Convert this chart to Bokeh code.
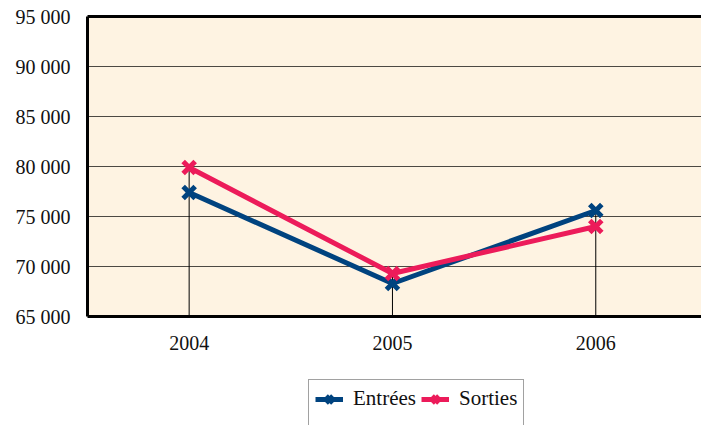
from bokeh.plotting import figure
from bokeh.layouts import column
from bokeh.models import Range1d, FixedTicker, LinearAxis, Legend, LegendItem, ColumnDataSource
from bokeh.embed import file_html
from bokeh.resources import INLINE

# ---- data ----
years = [2004, 2005, 2006]
entrees = [77400, 68300, 75600]
sorties = [79900, 69300, 74000]
y_ticks = [65000, 70000, 75000, 80000, 85000, 90000, 95000]
y_tick_labels = ["65 000", "70 000", "75 000", "80 000", "85 000", "90 000", "95 000"]
series_names = ["Entrées", "Sorties"]
Y_MIN, Y_MAX = 65000, 95000

BLUE = "#00437F"
RED = "#EC1B5A"
BG = "#FEF3E2"
FONT = "'Liberation Serif', 'Times New Roman', serif"

p = figure(width=701, height=378, output_backend="svg", toolbar_location=None,
           x_range=Range1d(2003.5, 2006.52), y_range=Range1d(Y_MIN, Y_MAX),
           min_border_left=87, min_border_right=0, min_border_top=16, min_border_bottom=62)
p.background_fill_color = BG
p.border_fill_color = "white"
p.outline_line_color = None

# grid
p.xgrid.grid_line_color = None
p.ygrid.ticker = FixedTicker(ticks=y_ticks)
p.ygrid.grid_line_color = "#000000"
p.ygrid.grid_line_alpha = 0.7
p.ygrid.grid_line_width = 1

# axes
p.yaxis.ticker = FixedTicker(ticks=y_ticks)
p.yaxis.major_label_overrides = {t: l for t, l in zip(y_ticks, y_tick_labels)}
p.xaxis.ticker = FixedTicker(ticks=years)
for ax in (p.xaxis, p.yaxis):
    ax.major_tick_line_color = None
    ax.minor_tick_line_color = None
    ax.axis_line_color = "black"
    ax.major_label_text_font = FONT
    ax.major_label_text_font_size = "20px"
    ax.major_label_text_color = "#111111"
p.yaxis.axis_line_width = 3
p.xaxis.axis_line_width = 3
p.yaxis.major_label_standoff = 11
p.xaxis.major_label_standoff = 13

top = LinearAxis(ticker=FixedTicker(ticks=[]), major_label_text_font_size="0px",
                 major_tick_line_color=None, minor_tick_line_color=None,
                 axis_line_color="black", axis_line_width=3)
p.add_layout(top, "above")

# drop lines
drop_top = [max(a, b) for a, b in zip(entrees, sorties)]
p.segment(x0=years, y0=drop_top, x1=years, y1=[Y_MIN] * len(years),
          line_color="black", line_width=1)

src = ColumnDataSource(dict(x=years, e=entrees, s=sorties))
p.line("x", "e", source=src, line_color=BLUE, line_width=5)
p.scatter("x", "e", source=src, marker="x", size=17, line_color=BLUE, line_width=5)
p.line("x", "s", source=src, line_color=RED, line_width=5)
p.scatter("x", "s", source=src, marker="x", size=17, line_color=RED, line_width=5)

# legend strip below the chart
q = figure(width=701, height=47, output_backend="svg", toolbar_location=None,
           x_range=Range1d(0, 1), y_range=Range1d(0, 1),
           min_border=0, min_border_left=0, min_border_right=0,
           min_border_top=0, min_border_bottom=0)
q.axis.visible = False
q.grid.visible = False
q.outline_line_color = None
q.background_fill_color = "white"
q.border_fill_color = "white"
nan = float("nan")
empty = ColumnDataSource(dict(x=[nan], y=[nan]))
k1 = q.line("x", "y", source=empty, line_color=BLUE, line_width=5)
j1 = q.scatter("x", "y", source=empty, marker="x", size=17, line_color=BLUE, line_width=5)
k2 = q.line("x", "y", source=empty, line_color=RED, line_width=5)
j2 = q.scatter("x", "y", source=empty, marker="x", size=17, line_color=RED, line_width=5)
k3 = q.line("x", "y", source=empty, line_alpha=0)  # invisible filler row (box height)

legend = Legend(items=[LegendItem(label=series_names[0], renderers=[k1, j1]),
                       LegendItem(label=series_names[1], renderers=[k2, j2]),
                       LegendItem(label=" ", renderers=[k3])],
                orientation="horizontal", ncols=2, location=(221, -22), margin=0,
                padding=6, spacing=5, glyph_width=28, glyph_height=24, label_height=24,
                label_standoff=10, label_text_font=FONT, label_text_font_size="21px",
                label_text_color="#111111", border_line_color="#444444",
                border_line_width=1, background_fill_color="white",
                background_fill_alpha=1)
q.add_layout(legend, "center")

layout = column(p, q, spacing=0)
open("out.html", "w").write(file_html(layout, INLINE))
